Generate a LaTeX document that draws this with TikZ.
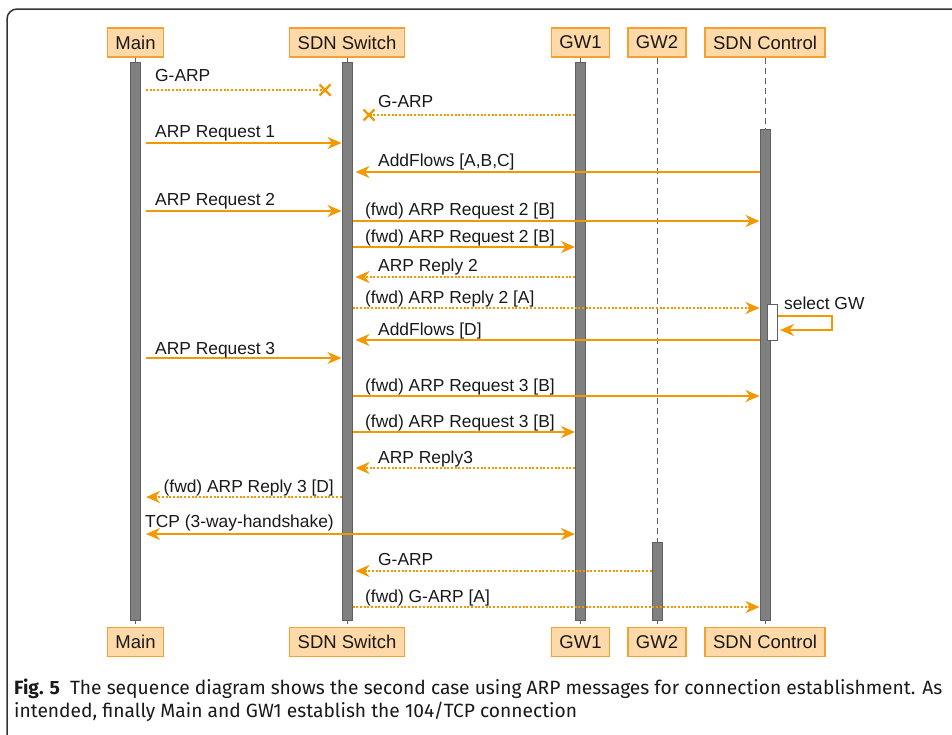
\documentclass[tikz,border=0pt]{standalone}
\usepackage{fontspec}
\setmainfont{Liberation Sans}
\newfontfamily\capfont{Fira Sans}
\usetikzlibrary{arrows.meta,calc}
\definecolor{org}{RGB}{243,152,0}
\definecolor{boxfill}{RGB}{255,217,168}
\definecolor{boxline}{RGB}{245,160,50}
\definecolor{barfill}{RGB}{128,128,128}
\definecolor{barline}{RGB}{95,95,95}
\definecolor{txt}{RGB}{25,25,25}
\tikzset{
  actor/.style={draw=boxline, fill=boxfill, line width=1.2pt, minimum height=29pt, inner xsep=8pt, inner ysep=0pt,
    font=\fontsize{18.5}{20}\selectfont, text=txt},
  bar/.style={draw=barline, fill=barfill, line width=1pt, minimum width=10pt, inner sep=0pt, anchor=north},
  act/.style={draw=barline, fill=white, line width=1pt, minimum width=10pt, inner sep=0pt},
  life/.style={draw=barline, line width=1pt, dash pattern=on 6pt off 4pt},
  tip/.tip={Stealth[length=14pt,width=12pt,inset=4.5pt]},
  msg/.style={draw=org, line width=2.2pt, -tip},
  dmsg/.style={msg, line width=2.5pt, dash pattern=on 2pt off 1.7pt},
  lost/.style={draw=org, line width=2.5pt, dash pattern=on 2pt off 1.7pt},
  cross/.style={draw=org, line width=2.2pt},
  lbl/.style={anchor=base west, inner sep=0pt, font=\fontsize{17.4}{19}\selectfont, text=txt},
  caplbl/.style={anchor=base west, inner sep=0pt, text=txt, font=\capfont\fontsize{19.2}{23}\selectfont},
  frame/.style={draw=black!80, line width=1.5pt, rounded corners=10pt}
}
\begin{document}
\begin{tikzpicture}[x=1pt,y=-1pt]
\useasboundingbox (0,0) rectangle (952,734);
\draw[frame] (7,800) -- (7,9) -- (1000,9);

% headers
\node[actor] (hMain) at (135.5,42.5) {Main};
\node[actor] (hSw) at (347,42.5) {SDN Switch};
\node[actor] (hGW1) at (580.5,42.5) {GW1};
\node[actor] (hGW2) at (657,42.5) {GW2};
\node[actor] (hCtl) at (765,42.5) {SDN Control};
% footers
\node[actor] (fMain) at (135.5,642) {Main};
\node[actor] (fSw) at (347,642) {SDN Switch};
\node[actor] (fGW1) at (580.5,642) {GW1};
\node[actor] (fGW2) at (657,642) {GW2};
\node[actor] (fCtl) at (765,642) {SDN Control};

% lifelines
\foreach \n in {Main,Sw,GW1,GW2,Ctl}{
  \draw[life] (h\n.south) -- (f\n.north);
}

% activation bars
\node[bar, minimum height=558pt] (bMain) at (hMain.south |- 0,62) {};
\node[bar, minimum height=558pt] (bSw) at (hSw.south |- 0,62) {};
\node[bar, minimum height=558pt] (bGW1) at (hGW1.south |- 0,62) {};
\node[bar, minimum height=491pt] (bCtl) at (hCtl.south |- 0,129) {};
\node[bar, minimum height=78pt] (bGW2) at (hGW2.south |- 0,542) {};
\node[act, minimum height=36pt] (selAct) at (772.5,322) {};

% lost messages
\coordinate (lost1) at (325,90);
\coordinate (lost2) at (369,115);
\draw[lost, shorten <=5pt] (bMain.east |- lost1) -- (lost1);
\draw[cross] ($(lost1)+(-5.5,-5.5)$) -- ($(lost1)+(5.5,5.5)$) ($(lost1)+(-5.5,5.5)$) -- ($(lost1)+(5.5,-5.5)$);
\node[lbl] at (155,81) {G-ARP};
\draw[lost] (bGW1.west |- lost2) -- (lost2);
\draw[cross] ($(lost2)+(-5.5,-5.5)$) -- ($(lost2)+(5.5,5.5)$) ($(lost2)+(-5.5,5.5)$) -- ($(lost2)+(5.5,-5.5)$);
\node[lbl] at (378,107) {G-ARP};

% messages
\draw[msg, shorten <=5pt] (bMain.east |- 0,143) -- (bSw.west |- 0,143);
\node[lbl] at (155,137) {ARP Request 1};
\draw[msg, shorten >=3pt] (bCtl.west |- 0,172) -- (bSw.east |- 0,172);
\node[lbl] at (378,166) {AddFlows [A,B,C]};
\draw[msg, shorten <=5pt] (bMain.east |- 0,211) -- (bSw.west |- 0,211);
\node[lbl] at (155,205) {ARP Request 2};
\draw[msg] (bSw.east |- 0,221) -- (bCtl.west |- 0,221);
\node[lbl] at (365,215) {(fwd) ARP Request 2 [B]};
\draw[msg] (bSw.east |- 0,247) -- (bGW1.west |- 0,247);
\node[lbl] at (365,242) {(fwd) ARP Request 2 [B]};
\draw[dmsg, shorten >=3pt] (bGW1.west |- 0,277) -- (bSw.east |- 0,277);
\node[lbl] at (378,271) {ARP Reply 2};
\draw[dmsg] (bSw.east |- 0,308) -- (bCtl.west |- 0,308);
\node[lbl] at (365,303) {(fwd) ARP Reply 2 [A]};
\draw[msg, shorten >=2pt] (selAct.east |- 0,316) -- (832,316) -- (832,330) -- (selAct.east |- 0,330);
\node[lbl] at (784,309) {select GW};
\draw[msg, shorten >=3pt] (bCtl.west |- 0,340) -- (bSw.east |- 0,340);
\node[lbl] at (378,335) {AddFlows [D]};
\draw[msg, shorten <=5pt] (bMain.east |- 0,358) -- (bSw.west |- 0,358);
\node[lbl] at (155,354) {ARP Request 3};
\draw[msg] (bSw.east |- 0,396) -- (bCtl.west |- 0,396);
\node[lbl] at (365,391) {(fwd) ARP Request 3 [B]};
\draw[msg] (bSw.east |- 0,432) -- (bGW1.west |- 0,432);
\node[lbl] at (365,427) {(fwd) ARP Request 3 [B]};
\draw[dmsg, shorten >=3pt] (bGW1.west |- 0,468) -- (bSw.east |- 0,468);
\node[lbl] at (378,463) {ARP Reply3};
\draw[dmsg, shorten >=5pt] (bSw.west |- 0,497) -- (bMain.east |- 0,497);
\node[lbl, anchor=base east] at (334,492) {(fwd) ARP Reply 3 [D]};
\draw[msg, tip-tip, shorten <=5pt] (bMain.east |- 0,534) -- (bGW1.west |- 0,534);
\node[lbl] at (145,527) {TCP (3-way-handshake)};
\draw[dmsg, shorten >=3pt] (bGW2.west |- 0,571) -- (bSw.east |- 0,571);
\node[lbl] at (378,565) {G-ARP};
\draw[dmsg] (bSw.east |- 0,607) -- (bCtl.west |- 0,607);
\node[lbl] at (365,602) {(fwd) G-ARP [A]};

% caption
\node[caplbl] (cap1) at (14,694)
 {\textbf{Fig. 5}\hspace{5pt} The sequence diagram shows the second case using ARP messages for connection establishment. As};
\node[caplbl] (cap2) at (14,717)
 {intended, finally Main and GW1 establish the 104/TCP connection};
\end{tikzpicture}
\end{document}
